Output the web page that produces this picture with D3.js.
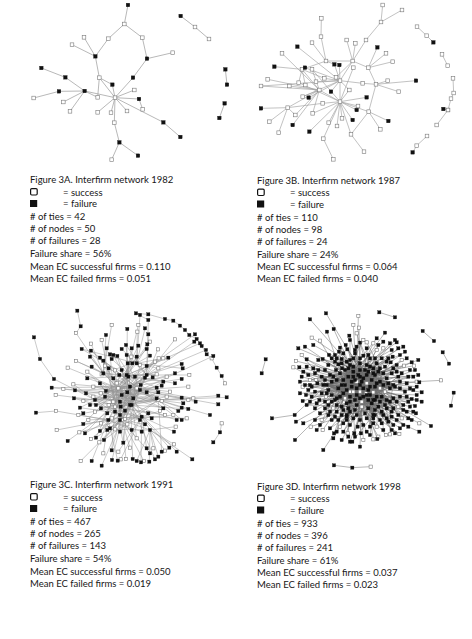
<!DOCTYPE html>
<html>
<head>
<meta charset="utf-8">
<script src="https://cdn.jsdelivr.net/npm/d3@7"></script>
<style>
  body { margin: 0; background: #fff; }
  svg { display: block; }
  text { font-family: Lato, "Open Sans", sans-serif; fill: #161616; }
</style>
</head>
<body>
<div id="chart"></div>
<script>
// --- Caption data ---
const titles = [
  "Figure 3A. Interfirm network 1982",
  "Figure 3B. Interfirm network 1987",
  "Figure 3C. Interfirm network 1991",
  "Figure 3D. Interfirm network 1998"
];
const tieCounts = [42, 110, 467, 933];
const nodeCounts = [50, 98, 265, 396];
const failureCounts = [28, 24, 143, 241];
const failureShares = ["56%", "24%", "54%", "61%"];
const ecSuccessful = ["0.110", "0.064", "0.050", "0.037"];
const ecFailed = ["0.051", "0.040", "0.019", "0.023"];

// --- Network data (layout units) ---
// hubs: [id, x, y, failed, links to other hubs]
// nodes: [x, y, failed, hubs it is tied to]
// chains: [hub or "", [x, y, failed], ...] tied one after another

// 1982
const hubsA = [
  ["a",345,293,0,""],["b",254,273,1,"a"],["c",286,169,1,"g"],["d",373,72,0,""],
  ["e",441,176,1,""],["f",358,427,1,"j"],["g",298,233,0,"a"],["h",490,367,1,"a"],
  ["i",417,297,1,"a"],["j",343,368,0,"a"],["k",196,232,1,"b"],["l",177,274,1,"b"]
];
const nodesA = [
  [384,15,1,"d"],[325,116,0,"dc"],[427,113,0,"de"],[252,112,0,"c"],[216,134,0,"c"],
  [518,158,0,"e"],[399,233,1,"ea"],[124,204,1,"k"],[337,254,1,"ga"],[101,294,0,"l"],
  [293,292,0,"gb"],[403,270,0,"a"],[190,306,0,"b"],[210,334,0,"b"],[293,337,0,"a"],
  [333,338,0,"a"],[381,333,0,"a"],[428,328,0,"i"],[541,411,1,"h"],[414,467,1,"f"],
  [335,479,0,"f"]
];
const chainsA = [
  ["",[542,48,1],[585,81,0],[627,117,0]],
  ["",[676,208,1],[681,254,1]],
  ["",[674,310,1],[658,354,1]]
];

// 1987
const hubsB = [
  ["a",312,305,0,""],["b",312,242,0,"a"],["c",350,183,0,"bj"],["d",250,270,0,"ae"],
  ["e",155,323,0,""],["f",398,335,0,"ka"],["g",435,66,0,""],["h",198,208,0,"d"],
  ["i",270,183,0,"hc"],["j",397,203,0,"k"],["k",420,253,0,""],["l",255,110,0,"i"],
  ["m",345,403,0,"fa"],["n",262,416,0,"a"]
];
const nodesB = [
  [440,15,0,"g"],[498,30,0,"g"],[390,120,0,"gc"],[256,55,0,"l"],[228,128,0,"i"],
  [332,120,0,"c"],[358,130,0,"c"],[184,140,1,"b"],[138,160,0,"d"],[424,142,1,"j"],
  [450,160,0,"j"],[470,185,0,"j"],[295,193,1,"ib"],[310,195,1,"b"],[352,203,0,"a"],
  [115,200,1,"h"],[207,203,1,"b"],[228,208,0,"da"],[95,238,0,"d"],[75,258,0,"bd"],
  [160,258,0,"d"],[188,248,0,"ha"],[285,275,1,"b"],[340,270,0,"ba"],[380,250,0,"bk"],
  [455,242,0,"k"],[540,242,1,"k"],[488,275,0,"k"],[218,293,1,"b"],[392,292,1,"a"],
  [260,310,0,"ae"],[75,325,1,"e"],[178,345,0,"ed"],[230,340,0,"da"],[362,330,1,"a"],
  [366,318,0,"a"],[350,360,1,"a"],[318,355,0,"a"],[303,378,0,"a"],[278,368,0,"a"],
  [100,365,0,"e"],[170,375,1,"d"],[220,395,1,"a"],[128,398,0,"e"],[457,363,1,"f"],
  [433,388,0,"f"],[384,455,0,"m"],[292,478,0,"n"],[200,290,0,"db"],[240,245,0,"b"],
  [265,235,0,"bh"],[208,255,0,"h"],[300,232,0,"c"]
];
const chainsB = [
  ["",[543,80,0],[572,107,0],[592,127,1]],
  ["",[618,163,0],[635,197,0]],
  ["",[651,235,0],[653,279,0],[645,296,0],[636,330,0],[602,375,0]],
  ["",[622,327,1],[636,330,0]],
  ["",[573,408,0],[542,437,0],[530,457,1]]
];

// 1991
const hubsC = [
  ["a",265,250,0,""],["b",330,255,1,"a"],["c",255,305,0,"ab"],["d",305,300,1,"abc"],
  ["e",290,210,1,"ab"],["f",230,260,0,"ace"],["g",350,210,1,"be"],["h",275,345,0,"cdb"],
  ["i",220,205,1,"ae"],["j",320,175,1,"eg"],["k",385,285,0,"bd"],["l",235,345,1,"ch"],
  ["m",335,335,1,"dh"],["n",195,285,1,"fc"],["o",300,245,1,"ab"],["p",360,375,1,"mh"]
];
const nodesC = [
  [155,132,1,"ej"],[183,116,0,"i"],[183,137,1,"ob"],[180,155,1,"id"],[113,188,0,"a"],
  [138,168,0,"ib"],[65,248,1,"ok"],[77,270,0,"n"],[100,252,0,"f"],[130,238,0,"nb"],
  [135,256,1,"ad"],[132,280,1,"nm"],[172,220,1,"ag"],[185,185,1,"i"],[172,200,0,"fd"],
  [190,245,0,"ok"],[168,265,1,"b"],[190,275,0,"cd"],[150,308,1,"nm"],[160,325,1,"d"],
  [145,330,0,"l"],[198,300,1,"ab"],[213,310,1,"dk"],[160,357,1,"la"],[175,345,0,"m"],
  [80,375,0,"l"],[113,408,1,"c"],[148,382,0,"h"],[165,385,1,"lo"],[183,402,0,"d"],
  [198,398,1,"ha"],[210,378,1,"lb"],[208,412,0,"h"],[222,405,1,"dk"],[220,445,0,"l"],
  [152,468,0,"h"],[185,468,1,"l"],[215,482,1,"h"],[245,436,1,"co"],[246,465,1,"h"],
  [263,467,1,"l"],[272,463,0,"m"],[288,462,0,"h"],[308,462,1,"o"],[320,468,1,"p"],
  [333,472,1,"m"],[342,468,0,"h"],[358,470,1,"p"],[375,463,1,"d"],[385,455,1,"p"],
  [360,445,1,"h"],[350,430,1,"m"],[370,430,0,"p"],[395,440,1,"k"],[405,437,0,"p"],
  [418,428,1,"m"],[432,418,0,"p"],[440,440,1,"d"],[487,463,1,"p"],[280,413,1,"co"],
  [300,428,0,"h"],[265,440,0,"m"],[320,400,0,"ho"],[335,380,1,"l"],[345,358,1,"hf"],
  [330,345,1,"ca"],[305,375,1,"l"],[292,358,0,"mb"],[270,380,1,"d"],[255,373,0,"po"],
  [240,370,1,"d"],[232,375,1,"hk"],[270,345,1,"ab"],[285,342,0,"dn"],[245,340,0,"mb"],
  [213,355,0,"a"],[432,380,1,"m"],[437,365,0,"p"],[455,345,1,"k"],[440,345,1,"d"],
  [470,340,0,"m"],[430,330,0,"bh"],[405,330,0,"c"],[400,310,1,"af"],[390,318,0,"m"],
  [455,308,1,"k"],[475,312,1,"d"],[445,318,1,"o"],[460,295,1,"k"],[497,290,1,"b"],
  [455,278,1,"f"],[475,285,0,"k"],[490,280,0,"o"],[540,330,1,"k"],[565,298,1,"b"],
  [565,272,1,"k"],[590,277,1,"k"],[380,248,1,"ae"],[395,242,1,"n"],[385,262,1,"cd"],
  [380,280,1,"o"],[395,288,0,"n"],[410,275,0,"c"],[420,260,0,"o"],[435,235,1,"e"],
  [455,222,1,"o"],[478,210,0,"g"],[475,245,0,"b"],[458,190,1,"j"],[455,177,1,"g"],
  [435,205,1,"f"],[410,215,0,"a"],[400,230,1,"ic"],[368,217,1,"f"],[345,218,1,"o"],
  [332,240,1,"cf"],[350,262,1,"n"],[380,208,0,"e"],[385,190,0,"j"],[375,170,0,"o"],
  [400,160,0,"j"],[415,158,1,"e"],[350,183,1,"ad"],[360,152,1,"j"],[320,155,1,"ac"],
  [330,180,0,"d"],[307,175,1,"i"],[290,150,1,"gd"],[304,155,0,"c"],[293,175,1,"b"],
  [275,132,1,"j"],[288,120,1,"dg"],[305,130,1,"e"],[250,150,1,"o"],[262,153,1,"bd"],
  [240,148,1,"c"],[245,162,1,"k"],[220,167,1,"bh"],[210,158,1,"a"],[225,182,0,"d"],
  [236,190,1,"c"],[255,196,0,"hb"],[275,195,1,"m"],[268,210,1,"c"],[250,220,1,"hd"],
  [260,235,0,"k"],[295,215,1,"h"],[315,215,1,"l"],[320,250,0,"h"],[292,262,1,"f"],
  [275,270,1,"g"],[310,280,1,"n"],[270,290,1,"g"],[250,290,0,"b"],[236,300,0,"g"],
  [225,275,1,"k"],[212,265,0,"d"],[228,258,1,"b"],[210,235,1,"dh"],[215,208,0,"b"],
  [325,122,1,"a"],[350,132,1,"f"],[352,118,1,"e"],[360,110,0,"j"],[345,70,1,"j"],
  [355,88,1,"g"],[325,60,0,"e"],[322,80,0,"j"],[292,72,1,"e"],[245,60,0,"i"],
  [228,90,1,"i"],[215,105,0,"c"],[384,133,0,"b"],[386,160,0,"f"],[435,103,0,"g"],
  [230,130,1,"i"],[270,330,1,"e"],[285,317,1,"g"],[300,300,1,"e"],[355,325,1,"c"],
  [365,340,1,"a"],[232,325,1,"b"],[255,320,1,"e"],[272,305,1,"b"],[195,320,0,"b"],
  [180,300,1,"k"],[160,288,0,"b"],[330,30,1,"j"],[495,88,1,"a"],[493,110,1,"g"],
  [510,115,1,"e"],[528,135,1,"g"],[550,153,1,"b"]
];
const chainsC = [
  ["g",[355,45,1],[318,25,1],[355,28,1],[405,42,1],[430,47,1],[450,62,1],[465,75,1],[478,90,1],
   [500,102,1],[515,123,1],[530,148,1],[545,160,0],[560,188,1],[575,213,1],[585,235,0]],
  ["",[575,355,0],[570,382,1],[550,412,1]],
  ["n",[72,222,1],[30,162,1],[12,97,1]],
  ["l",[78,318,0],[18,323,1]],
  ["i",[138,84,0],[152,64,1],[142,17,1]]
];

// 1998
const hubsD = [
  ["a",290,230,0,""],["b",335,225,1,"a"],["c",270,260,0,"ab"],["d",320,270,1,"abc"],
  ["e",300,195,1,"ab"],["f",360,250,0,"abd"],["g",250,225,1,"ace"],["h",305,305,0,"cd"],
  ["i",230,280,1,"cg"],["j",390,290,1,"dfh"],["k",270,180,1,"eg"],["l",360,190,1,"bf"],
  ["m",400,240,1,"fj"],["n",340,330,1,"hd"],["o",260,330,1,"hi"],["p",200,240,1,"gi"]
];
const nodesD = [
  [198,25,1,"e"],[150,43,1,"k"],[295,33,0,"a"],[201,80,1,"g"],[221,72,1,"k"],
  [268,92,1,"e"],[290,85,0,"b"],[280,60,0,"a"],[297,68,0,"e"],[310,105,0,"g"],
  [320,112,0,"l"],[300,113,1,"ef"],[290,125,1,"c"],[270,105,1,"k"],[262,133,1,"bd"],
  [257,120,1,"e"],[240,128,1,"a"],[237,140,1,"fc"],[250,145,1,"k"],[225,150,1,"bd"],
  [215,160,1,"a"],[207,150,1,"f"],[188,162,1,"ae"],[175,165,1,"b"],[160,120,1,"k"],
  [155,98,0,"e"],[180,107,0,"g"],[135,125,1,"a"],[115,130,1,"b"],[125,150,0,"p"],
  [140,163,1,"ad"],[118,187,1,"f"],[100,187,0,"p"],[108,168,0,"b"],[130,200,1,"dg"],
  [145,210,1,"a"],[160,190,1,"bf"],[165,205,1,"c"],[125,215,1,"d"],[135,240,1,"ab"],
  [120,265,1,"f"],[138,270,1,"ad"],[128,288,1,"b"],[140,300,1,"fh"],[150,290,1,"a"],
  [155,275,1,"d"],[165,260,1,"bf"],[155,245,1,"ja"],[172,235,1,"d"],[168,225,0,"b"],
  [185,215,1,"fa"],[195,195,1,"d"],[205,180,1,"b"],[190,240,1,"fj"],[185,265,1,"a"],
  [178,285,1,"db"],[165,310,1,"a"],[180,325,1,"bd"],[195,310,1,"j"],[205,330,1,"a"],
  [185,345,0,"d"],[165,345,1,"h"],[152,365,0,"o"],[130,355,1,"d"],[108,350,1,"i"],
  [105,405,1,"i"],[190,435,1,"o"],[170,375,1,"c"],[188,375,0,"a"],[210,370,1,"hb"],
  [222,385,1,"c"],[245,405,1,"d"],[220,400,1,"o"],[250,380,1,"bh"],[265,395,1,"c"],
  [270,410,1,"d"],[277,410,1,"n"],[263,385,0,"c"],[283,385,1,"bd"],[300,425,1,"h"],
  [303,385,1,"a"],[293,365,1,"e"],[320,380,1,"c"],[310,405,0,"h"],[340,403,0,"d"],
  [352,402,1,"a"],[355,395,0,"h"],[378,390,0,"c"],[390,388,0,"j"],[395,375,1,"a"],
  [405,385,1,"d"],[418,387,0,"n"],[420,370,1,"c"],[400,360,1,"ga"],[430,360,1,"d"],
  [445,365,1,"c"],[455,345,1,"a"],[478,380,1,"h"],[478,355,0,"d"],[513,363,1,"j"],
  [468,325,1,"c"],[465,303,1,"a"],[485,290,1,"g"],[470,270,1,"c"],[485,262,1,"a"],
  [455,282,1,"gd"],[460,255,1,"c"],[470,245,1,"a"],[478,232,1,"g"],[460,215,1,"c"],
  [475,210,1,"a"],[465,195,1,"i"],[475,165,1,"a"],[455,172,1,"c"],[462,182,0,"g"],
  [432,182,0,"a"],[440,160,1,"i"],[425,165,0,"c"],[410,180,1,"a"],[430,125,1,"g"],
  [435,140,1,"c"],[415,130,1,"a"],[410,112,1,"g"],[405,105,1,"c"],[390,115,1,"a"],
  [375,83,1,"i"],[370,130,0,"c"],[370,110,1,"g"],[350,135,0,"a"],[340,115,0,"c"],
  [350,100,1,"g"],[325,150,1,"ai"],[330,160,1,"c"],[310,152,1,"gi"],[300,160,1,"ac"],
  [285,145,1,"d"],[280,160,1,"f"],[260,170,1,"dj"],[245,162,1,"b"],[235,178,1,"fd"],
  [228,195,1,"j"],[246,190,1,"bd"],[265,190,1,"f"],[280,185,1,"hd"],[320,180,1,"g"],
  [330,185,1,"ci"],[350,175,1,"h"],[365,160,1,"g"],[385,160,1,"ci"],[398,155,1,"g"],
  [392,172,1,"h"],[375,185,1,"c"],[355,200,1,"gi"],[340,205,1,"h"],[320,210,1,"c"],
  [300,215,1,"hi"],[285,225,1,"j"],[275,230,1,"b"],[305,230,1,"ci"],[300,240,1,"j"],
  [320,235,0,"ch"],[345,245,1,"ig"],[360,230,1,"c"],[380,220,1,"gi"],[395,205,1,"c"],
  [410,200,1,"gi"],[425,205,1,"h"],[445,215,1,"ig"],[440,235,1,"c"],[420,230,1,"ia"],
  [405,245,1,"c"],[390,250,1,"ig"],[375,260,0,"a"],[340,262,0,"ie"],[318,265,0,"g"],
  [300,260,0,"b"],[280,260,0,"j"],[260,255,1,"bf"],[245,240,1,"j"],[230,225,1,"bf"],
  [215,230,1,"j"],[205,255,1,"fb"],[215,270,1,"j"],[225,285,1,"b"],[240,275,1,"fj"],
  [255,280,0,"b"],[270,290,1,"f"],[285,285,1,"ej"],[305,290,0,"b"],[325,285,1,"eg"],
  [345,285,1,"a"],[360,290,1,"eg"],[380,285,1,"a"],[400,280,1,"ge"],[420,275,1,"a"],
  [435,260,1,"eg"],[445,290,1,"i"],[430,300,1,"ea"],[415,305,0,"g"],[400,310,1,"ie"],
  [380,310,1,"a"],[365,320,1,"eg"],[345,315,1,"a"],[325,310,1,"ie"],[285,315,1,"a"],
  [265,310,1,"ge"],[245,305,1,"f"],[230,320,1,"eb"],[245,330,1,"f"],[260,335,1,"eb"],
  [280,340,1,"f"],[300,345,1,"eb"],[320,340,1,"f"],[340,340,1,"ea"],[360,345,1,"f"],
  [380,340,1,"eb"],[395,335,1,"f"],[415,330,1,"eb"],[425,340,0,"f"],[440,320,1,"ea"],
  [350,365,0,"f"],[330,365,1,"eb"],[270,360,1,"f"],[250,355,1,"e"],[235,345,1,"fb"],
  [215,345,1,"e"],[240,365,0,"f"],[205,300,1,"eb"],[220,310,0,"f"],[195,290,1,"eb"],
  [198,275,0,"f"],[150,225,0,"eb"],[140,185,1,"f"],[120,230,1,"eb"],[128,245,0,"f"],
  [145,255,1,"e"],
  [280,200,1,"ml"],[295,210,1,"pn"],[310,220,1,"om"],[325,200,1,"pi"],[340,190,1,"on"],
  [265,215,1,"mj"],[255,240,1,"ln"],[275,245,1,"mj"],[290,250,1,"pl"],[310,250,1,"ko"],
  [330,245,1,"pi"],[350,235,1,"ok"],[370,240,1,"pi"],[385,235,1,"gc"],[370,205,1,"pi"],
  [345,210,1,"ko"],[315,195,1,"np"],[290,270,1,"lm"],[310,275,1,"kp"],[330,270,1,"ip"],
  [350,275,1,"kg"],[270,275,1,"ml"],[250,265,1,"lj"],[235,250,1,"mf"],[220,215,1,"ml"],
  [240,205,1,"nj"],[255,195,1,"mn"],[365,275,1,"pk"],[375,300,1,"io"],[355,305,1,"pk"],
  [335,295,1,"kp"],[290,300,1,"lm"],[270,320,1,"lk"],[250,315,1,"m"],[315,325,1,"kl"],
  [345,330,1,"gk"],[370,330,1,"p"],[395,320,1,"pk"],[410,290,1,"po"],[420,250,1,"pk"],
  [415,215,1,"ok"],[400,190,1,"po"],[380,170,1,"pi"],[345,160,1,"on"],[300,175,1,"no"],
  [270,165,1,"nl"],[245,175,1,"ml"],[225,170,1,"m"],[210,210,1,"ml"],[195,225,1,"m"],
  [200,265,1,"lm"],[215,290,1,"m"],[230,300,1,"lk"],[210,320,1,"k"],[225,335,1,"n"],
  [260,345,1,"kl"],[290,330,1,"l"],[310,360,1,"k"],[340,355,1,"l"],[365,355,1,"k"],
  [385,350,1,"l"],[410,345,1,"p"],[430,315,1,"p"],[450,305,1,"p"],[450,250,1,"p"],
  [450,195,1,"p"],[420,150,1,"p"],[395,135,1,"p"],[355,120,1,"o"],[320,130,1,"n"],
  [285,135,1,"n"],[230,160,1,"m"],[175,195,1,"m"],[150,240,1,"m"],[170,295,1,"l"],
  [180,360,1,"k"],[230,380,1,"k"],[285,395,1,"k"],[330,390,1,"l"],[370,375,1,"l"],
  [445,340,1,"p"],[460,320,1,"i"],[470,285,1,"i"],[440,275,1,"i"],[300,280,1,"ab"],
  [280,215,1,"df"],[325,255,1,"ac"],[340,285,1,"ci"],[260,295,1,"fb"]
];
const chainsD = [
  ["",[17,163,1],[5,205,1]],
  ["p",[104,330,1],[36,340,1]],
  ["",[222,481,1],[277,488,1],[332,485,0]],
  ["",[358,22,1],[405,37,1]],
  ["",[488,78,1],[522,108,1]],
  ["",[548,142,1],[567,176,1]],
  ["",[581,263,1],[573,302,1]],
  ["m",[470,230,0],[543,226,0]]
];

// --- Layout ---
const W = 472, H = 639;
const panels = [
  { hubs: hubsA, nodes: nodesA, chains: chainsA, dom: [708, 510], box: [0, 0, 236, 170], sq: 3.6, edge: ["#9a9a9a", 0.7], cap: [30, 183] },
  { hubs: hubsB, nodes: nodesB, chains: chainsB, dom: [708, 510], box: [236, 0, 236, 170], sq: 3.6, edge: ["#a0a0a0", 0.65], cap: [257, 183.5] },
  { hubs: hubsC, nodes: nodesC, chains: chainsC, dom: [600, 510], box: [30, 305, 200, 170], sq: 3.2, edge: ["#959595", 0.5], cap: [30, 488] },
  { hubs: hubsD, nodes: nodesD, chains: chainsD, dom: [600, 510], box: [260, 305, 200, 170], sq: 3.2, edge: ["#6f6f6f", 0.5], cap: [257, 489.5] }
];
const lineOffsets = [0, 12.5, 24, 37, 49, 61, 74, 86.5, 98.5];

const svg = d3.select("#chart").append("svg")
  .attr("width", W).attr("height", H);

// turn hubs/nodes/chains into a node list and a tie list
function buildGraph(p) {
  const nodes = [], links = [], byId = {};
  p.hubs.forEach(h => {
    const n = { x: h[1], y: h[2], f: h[3] };
    byId[h[0]] = n;
    nodes.push(n);
  });
  p.hubs.forEach(h => {
    h[4].split("").forEach(t => links.push([byId[h[0]], byId[t]]));
  });
  p.nodes.forEach(d => {
    const n = { x: d[0], y: d[1], f: d[2] };
    nodes.push(n);
    d[3].split("").forEach(t => links.push([n, byId[t]]));
  });
  p.chains.forEach(c => {
    let prev = c[0] ? byId[c[0]] : null;
    c.slice(1).forEach(d => {
      const n = { x: d[0], y: d[1], f: d[2] };
      nodes.push(n);
      if (prev) links.push([prev, n]);
      prev = n;
    });
  });
  return { nodes, links };
}

panels.forEach((p, i) => {
  const [bx, by, bw, bh] = p.box;
  const x = d3.scaleLinear().domain([0, p.dom[0]]).range([bx, bx + bw]);
  const y = d3.scaleLinear().domain([0, p.dom[1]]).range([by, by + bh]);
  const g = svg.append("g");
  const graph = buildGraph(p);

  g.selectAll("line")
    .data(graph.links)
    .enter().append("line")
    .attr("x1", d => x(d[0].x)).attr("y1", d => y(d[0].y))
    .attr("x2", d => x(d[1].x)).attr("y2", d => y(d[1].y))
    .attr("stroke", p.edge[0])
    .attr("stroke-width", p.edge[1]);

  // success first, failures on top
  g.selectAll("rect")
    .data(graph.nodes.slice().sort((a, b) => a.f - b.f))
    .enter().append("rect")
    .attr("x", d => x(d.x) - p.sq / 2)
    .attr("y", d => y(d.y) - p.sq / 2)
    .attr("width", p.sq).attr("height", p.sq)
    .attr("fill", d => d.f ? "#111" : "#fff")
    .attr("stroke", d => d.f ? "#111" : "#7a7a7a")
    .attr("stroke-width", d => d.f ? 0.3 : 0.6);

  // caption block
  const [cx, cy] = p.cap;
  const lines = [
    titles[i], "= success", "= failure",
    "# of ties = " + tieCounts[i],
    "# of nodes = " + nodeCounts[i],
    "# of failures = " + failureCounts[i],
    "Failure share = " + failureShares[i],
    "Mean EC successful firms = " + ecSuccessful[i],
    "Mean EC failed firms = " + ecFailed[i]
  ];
  const cap = svg.append("g");
  cap.selectAll("text")
    .data(lines)
    .enter().append("text")
    .attr("x", (d, k) => (k === 1 || k === 2) ? cx + 33 : cx)
    .attr("y", (d, k) => cy + lineOffsets[k])
    .attr("font-size", 9.5)
    .text(d => d);

  cap.append("rect")
    .attr("x", cx + 0.6).attr("y", cy + 5.6)
    .attr("width", 6.6).attr("height", 6.4)
    .attr("rx", 1.2)
    .attr("fill", "#fff").attr("stroke", "#111").attr("stroke-width", 1.2);
  cap.append("rect")
    .attr("x", cx).attr("y", cy + 17)
    .attr("width", 7.2).attr("height", 7)
    .attr("fill", "#111");
});
</script>
</body>
</html>
